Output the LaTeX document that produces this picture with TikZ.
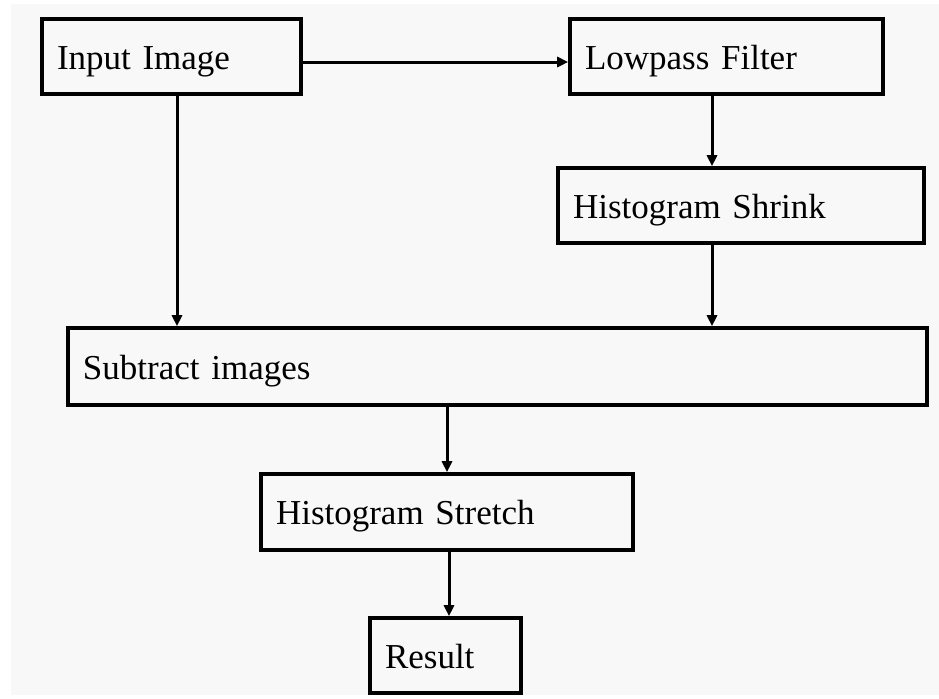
\documentclass[tikz,border=0pt]{standalone}
\usepackage{fontspec}
\setmainfont{Liberation Serif}
\usetikzlibrary{arrows.meta,positioning}
\definecolor{bgcol}{HTML}{F8F8F8}

\begin{document}
\begin{tikzpicture}[
  x=0.5pt, y=-0.5pt,
  block/.style={rectangle, draw, line width=1.8pt, inner xsep=7.5pt, inner ysep=0pt,
    text height=12.5pt, text depth=0pt,
    minimum height=37.5pt, align=left, font=\fontsize{17.5}{20}\selectfont},
  arrow/.style={-{Triangle[length=5.5pt,width=5pt]}, line width=1.5pt}
]
\useasboundingbox (0,0) rectangle (939,698);
\fill[bgcol] (11,4) rectangle (939,695);

\node[block, text width=114.5pt] (input) at (171.5,56.5) {Input Image};
\node[block, text width=141.5pt, right of=input, node distance=277.5pt] (lowpass) {Lowpass Filter};
\node[block, text width=168pt, below of=lowpass, node distance=74.5pt, xshift=7.25pt] (shrink) {Histogram Shrink};
\node[block, text width=414.5pt, minimum height=38.5pt, below of=input, node distance=155pt, xshift=163pt] (subtract) {Subtract images};
\node[block, text width=171pt, minimum height=38pt, below of=subtract, node distance=72.75pt, xshift=-25.25pt] (stretch) {Histogram Stretch};
\node[block, text width=60.5pt, below of=stretch, node distance=71.75pt, xshift=-0.75pt] (result) {Result};

\draw[arrow] ([yshift=-2.75pt]input.east) -- ([yshift=-2.75pt]lowpass.west);
\draw[arrow] ([xshift=2.75pt]input.south) -- ([xshift=2.75pt]input.south |- subtract.north);
\draw[arrow] ([xshift=-7.25pt]lowpass.south) -- ([xshift=-7.25pt]lowpass.south |- shrink.north);
\draw[arrow] ([xshift=-7.25pt]lowpass.south |- shrink.south) -- ([xshift=-7.25pt]lowpass.south |- subtract.north);
\draw[arrow] (stretch.north |- subtract.south) -- (stretch.north);
\draw[arrow] ([xshift=1pt]stretch.south) -- ([xshift=1pt]stretch.south |- result.north);
\end{tikzpicture}
\end{document}
